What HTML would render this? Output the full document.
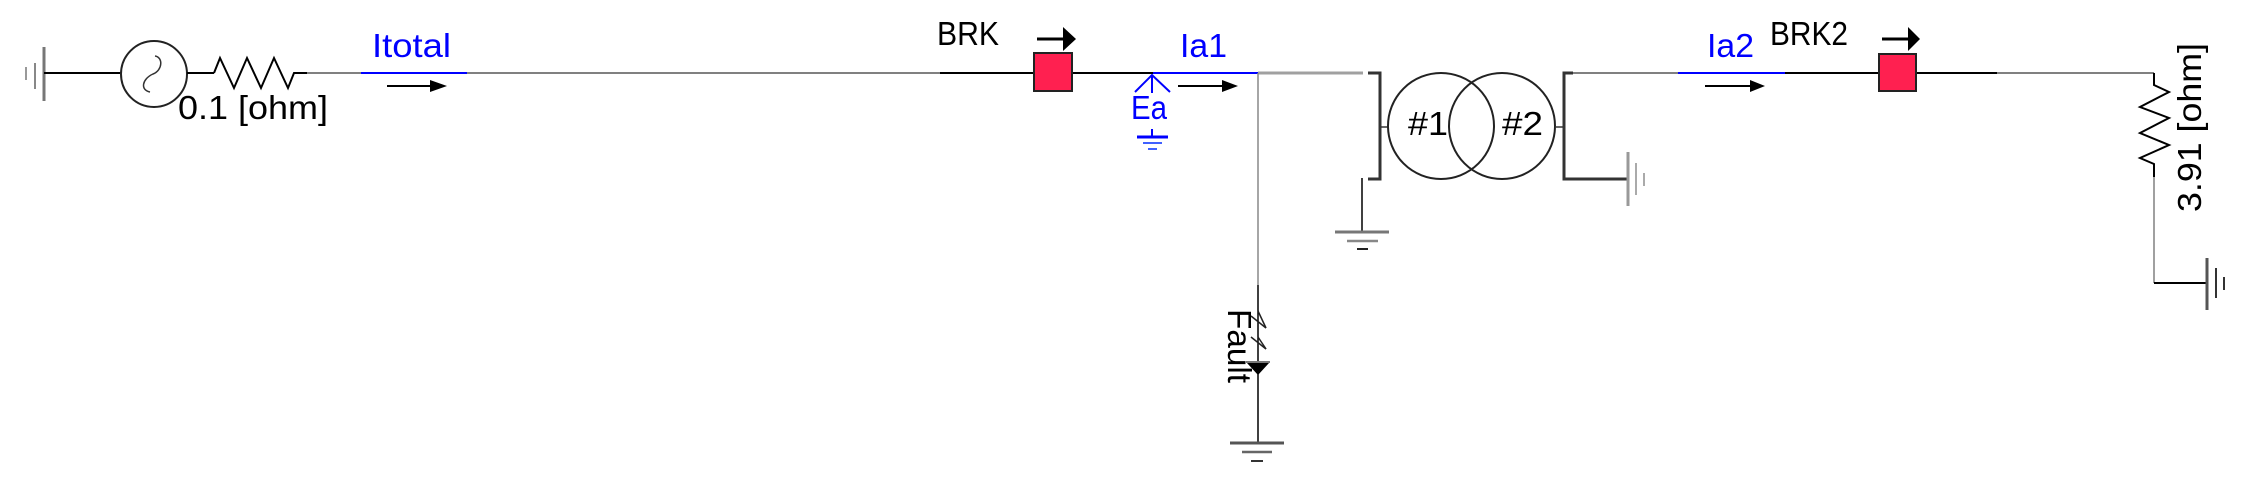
<!DOCTYPE html>
<html>
<head>
<meta charset="utf-8">
<style>
  html,body{margin:0;padding:0;background:#fff;}
  svg{display:block;}
  text{font-family:"Liberation Sans", sans-serif;font-size:33px;}
</style>
</head>
<body>
<svg width="2250" height="486" viewBox="0 0 2250 486" xmlns="http://www.w3.org/2000/svg">
  <rect width="2250" height="486" fill="#fff"/>

  <!-- Left ground -->
  <line x1="44" y1="47" x2="44" y2="101" stroke="#777" stroke-width="3"/>
  <line x1="35" y1="63" x2="35" y2="89" stroke="#888" stroke-width="2"/>
  <line x1="26" y1="67" x2="26" y2="80" stroke="#999" stroke-width="2"/>
  <line x1="44" y1="73" x2="121" y2="73" stroke="#000" stroke-width="2"/>

  <!-- Generator -->
  <circle cx="154" cy="74" r="33" fill="none" stroke="#222" stroke-width="2"/>
  <path d="M155 56 C163 57,163 70,153 74 C142 79,140 90,150 92" fill="none" stroke="#333" stroke-width="1.5"/>
  <line x1="187" y1="73" x2="214" y2="73" stroke="#000" stroke-width="2"/>
  <polyline points="214,73 220,58 234,88 247,58 261,88 274,58 288,88 294,73 307,73" fill="none" stroke="#000" stroke-width="2"/>
  <text x="178" y="119" textLength="150" lengthAdjust="spacingAndGlyphs" fill="#000">0.1 [ohm]</text>

  <!-- Main bus -->
  <line x1="307" y1="73" x2="361" y2="73" stroke="#808080" stroke-width="2"/>
  <line x1="361" y1="73" x2="467" y2="73" stroke="#0000ff" stroke-width="2"/>
  <line x1="467" y1="73" x2="940" y2="73" stroke="#808080" stroke-width="2"/>
  <line x1="940" y1="73" x2="1033" y2="73" stroke="#000" stroke-width="2"/>
  <text x="372" y="57" textLength="79" lengthAdjust="spacingAndGlyphs" fill="#0000ff">Itotal</text>
  <line x1="387" y1="86" x2="432" y2="86" stroke="#000" stroke-width="2"/>
  <polygon points="430,80 447,86 430,92" fill="#000"/>

  <!-- BRK -->
  <text x="937" y="45" textLength="62" lengthAdjust="spacingAndGlyphs" fill="#000">BRK</text>
  <line x1="1037" y1="39" x2="1065" y2="39" stroke="#000" stroke-width="3"/>
  <polygon points="1063,27 1076,39 1063,51" fill="#000"/>
  <rect x="1034" y="53" width="38" height="38" fill="#ff2050" stroke="#222" stroke-width="2"/>
  <line x1="1073" y1="73" x2="1153" y2="73" stroke="#000" stroke-width="2"/>
  <line x1="1153" y1="73" x2="1258" y2="73" stroke="#0000ff" stroke-width="2"/>
  <line x1="1258" y1="73" x2="1363" y2="73" stroke="#a0a0a0" stroke-width="3"/>
  <text x="1180" y="57" textLength="47" lengthAdjust="spacingAndGlyphs" fill="#0000ff">Ia1</text>
  <line x1="1178" y1="86" x2="1224" y2="86" stroke="#000" stroke-width="2"/>
  <polygon points="1222,80 1238,86 1222,92" fill="#000"/>

  <!-- Ea meter -->
  <polyline points="1135,92 1152,75 1170,92" fill="none" stroke="#0000ff" stroke-width="2"/>
  <line x1="1152" y1="75" x2="1152" y2="93" stroke="#0000ff" stroke-width="2"/>
  <text x="1131" y="119" textLength="36" lengthAdjust="spacingAndGlyphs" fill="#0000ff">Ea</text>
  <line x1="1152" y1="129" x2="1152" y2="137" stroke="#0000ff" stroke-width="2"/>
  <line x1="1137" y1="137" x2="1168" y2="137" stroke="#0000ff" stroke-width="3"/>
  <line x1="1143" y1="143" x2="1162" y2="143" stroke="#4060ff" stroke-width="2"/>
  <line x1="1148" y1="149" x2="1157" y2="149" stroke="#4060ff" stroke-width="2"/>

  <!-- Fault branch -->
  <line x1="1258" y1="73" x2="1258" y2="285" stroke="#888" stroke-width="1.5"/>
  <line x1="1258" y1="285" x2="1258" y2="443" stroke="#000" stroke-width="1.5"/>
  <line x1="1258" y1="311" x2="1266" y2="328" stroke="#222" stroke-width="1.5"/>
  <line x1="1251" y1="316" x2="1266" y2="328" stroke="#222" stroke-width="1.5"/>
  <line x1="1258" y1="337" x2="1266" y2="349" stroke="#222" stroke-width="1.5"/>
  <line x1="1251" y1="337" x2="1266" y2="349" stroke="#222" stroke-width="1.5"/>
  <line x1="1246" y1="362" x2="1270" y2="362" stroke="#777" stroke-width="2"/>
  <polygon points="1247,363 1269,363 1258,375" fill="#000"/>
  <text transform="translate(1228,309) rotate(90)" x="0" y="0" textLength="74" lengthAdjust="spacingAndGlyphs" fill="#000">Fault</text>
  <line x1="1230" y1="443" x2="1284" y2="443" stroke="#555" stroke-width="3"/>
  <line x1="1242" y1="452" x2="1272" y2="452" stroke="#666" stroke-width="2.5"/>
  <line x1="1251" y1="461" x2="1263" y2="461" stroke="#333" stroke-width="2"/>

  <!-- Transformer -->
  <path d="M1368 73 H1380 V179 H1368" fill="none" stroke="#333" stroke-width="3"/>
  <line x1="1380" y1="127" x2="1388" y2="127" stroke="#333" stroke-width="1.5"/>
  <circle cx="1441" cy="126" r="53" fill="none" stroke="#222" stroke-width="2"/>
  <circle cx="1502" cy="126" r="53" fill="none" stroke="#222" stroke-width="2"/>
  <line x1="1555" y1="127" x2="1564" y2="127" stroke="#333" stroke-width="1.5"/>
  <text x="1408" y="135" textLength="40" lengthAdjust="spacingAndGlyphs" fill="#000">#1</text>
  <text x="1502" y="135" textLength="41" lengthAdjust="spacingAndGlyphs" fill="#000">#2</text>
  <path d="M1573 73 H1564 V179 H1628" fill="none" stroke="#333" stroke-width="3"/>
  <!-- ground under left bracket -->
  <line x1="1362" y1="178" x2="1362" y2="232" stroke="#000" stroke-width="1.5"/>
  <line x1="1335" y1="232" x2="1389" y2="232" stroke="#777" stroke-width="3"/>
  <line x1="1347" y1="241" x2="1378" y2="241" stroke="#888" stroke-width="2.5"/>
  <line x1="1357" y1="249" x2="1368" y2="249" stroke="#222" stroke-width="2"/>
  <!-- ground at right bracket -->
  <line x1="1628" y1="152" x2="1628" y2="206" stroke="#999" stroke-width="3"/>
  <line x1="1636" y1="163" x2="1636" y2="195" stroke="#aaa" stroke-width="2"/>
  <line x1="1644" y1="173" x2="1644" y2="186" stroke="#aaa" stroke-width="2"/>

  <!-- Secondary bus -->
  <line x1="1573" y1="73" x2="1678" y2="73" stroke="#808080" stroke-width="2"/>
  <line x1="1678" y1="73" x2="1785" y2="73" stroke="#0000ff" stroke-width="2"/>
  <line x1="1785" y1="73" x2="1878" y2="73" stroke="#000" stroke-width="2"/>
  <text x="1707" y="57" textLength="47" lengthAdjust="spacingAndGlyphs" fill="#0000ff">Ia2</text>
  <line x1="1705" y1="86" x2="1752" y2="86" stroke="#000" stroke-width="2"/>
  <polygon points="1750,80 1765,86 1750,92" fill="#000"/>
  <text x="1770" y="45" textLength="78" lengthAdjust="spacingAndGlyphs" fill="#000">BRK2</text>
  <line x1="1882" y1="39" x2="1910" y2="39" stroke="#000" stroke-width="3"/>
  <polygon points="1908,27 1920,39 1908,51" fill="#000"/>
  <rect x="1879" y="54" width="37" height="37" fill="#ff2050" stroke="#222" stroke-width="2"/>
  <line x1="1917" y1="73" x2="1997" y2="73" stroke="#000" stroke-width="2"/>
  <line x1="1997" y1="73" x2="2154" y2="73" stroke="#808080" stroke-width="2"/>

  <!-- Load resistor -->
  <polyline points="2154,73 2154,85 2169,92 2140,107 2169,118 2140,133 2169,145 2140,158 2154,164 2154,177" fill="none" stroke="#000" stroke-width="2"/>
  <line x1="2154" y1="177" x2="2154" y2="283" stroke="#808080" stroke-width="1.5"/>
  <line x1="2154" y1="283" x2="2207" y2="283" stroke="#000" stroke-width="2"/>
  <line x1="2207" y1="258" x2="2207" y2="310" stroke="#555" stroke-width="3"/>
  <line x1="2216" y1="268" x2="2216" y2="298" stroke="#333" stroke-width="2"/>
  <line x1="2224" y1="277" x2="2224" y2="290" stroke="#333" stroke-width="2"/>
  <text transform="translate(2201,212) rotate(-90)" x="0" y="0" textLength="169" lengthAdjust="spacingAndGlyphs" fill="#000">3.91 [ohm]</text>
</svg>
</body>
</html>
